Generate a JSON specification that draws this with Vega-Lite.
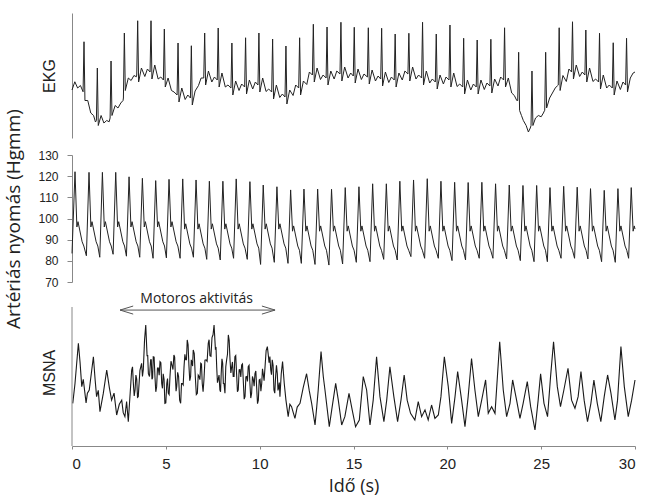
{
"$schema": "https://vega.github.io/schema/vega-lite/v6.json",
"padding": {"top": 13, "left": 4, "right": 6, "bottom": 0},
"bounds": "flush",
"spacing": 17,
"config": {"view": {"stroke": null}, "axis": {"grid": false}},
"datasets": {
"ekg": [
{"t":0,"v":38.4},{"t":0.15,"v":45},{"t":0.3,"v":40},{"t":0.45,"v":42},
{"t":0.59,"v":37},{"t":0.64,"v":77},{"t":0.69,"v":30},{"t":0.84,"v":30},{"t":1.0,"v":20},{"t":1.15,"v":18},{"t":1.25,"v":12.8},
{"t":1.30,"v":14},{"t":1.35,"v":56},{"t":1.40,"v":10},{"t":1.55,"v":18},{"t":1.7,"v":12},{"t":1.85,"v":14},{"t":1.98,"v":13},
{"t":2.03,"v":16},{"t":2.08,"v":61.6},{"t":2.13,"v":18},{"t":2.3,"v":26},{"t":2.45,"v":24},{"t":2.6,"v":28},{"t":2.72,"v":30},
{"t":2.74,"v":32},{"t":2.79,"v":84},{"t":2.84,"v":38},{"t":3.0,"v":48},{"t":3.15,"v":46},{"t":3.3,"v":50},{"t":3.43,"v":49},
{"t":3.45,"v":50.4},{"t":3.50,"v":93.8},{"t":3.55,"v":44.8},{"t":3.70,"v":56},{"t":3.88,"v":49.2},{"t":4.02,"v":55.2},
{"t":4.16,"v":52.8},{"t":4.21,"v":93.8},{"t":4.26,"v":47.2},{"t":4.41,"v":58.4},{"t":4.59,"v":47.2},{"t":4.73,"v":48.8},
{"t":4.87,"v":46.4},{"t":4.92,"v":87.2},{"t":4.97,"v":40.8},{"t":5.12,"v":48},{"t":5.30,"v":38},{"t":5.44,"v":36.8},
{"t":5.60,"v":34.4},{"t":5.65,"v":76},{"t":5.70,"v":28.8},{"t":5.85,"v":40},{"t":6.03,"v":30.8},{"t":6.17,"v":34.4},
{"t":6.31,"v":32},{"t":6.36,"v":73.8},{"t":6.41,"v":26.4},{"t":6.56,"v":37.6},{"t":6.74,"v":42},{"t":6.88,"v":48},
{"t":7.02,"v":48},{"t":7.07,"v":84},{"t":7.12,"v":42.4},{"t":7.27,"v":53.6},{"t":7.45,"v":44.8},{"t":7.59,"v":48.8},
{"t":7.74,"v":46.4},{"t":7.79,"v":88},{"t":7.84,"v":40.8},{"t":7.99,"v":52},{"t":8.17,"v":40.8},{"t":8.31,"v":42.4},
{"t":8.47,"v":40},{"t":8.52,"v":76},{"t":8.57,"v":34.4},{"t":8.72,"v":45.6},{"t":8.90,"v":38},{"t":9.04,"v":43.2},
{"t":9.20,"v":40.8},{"t":9.25,"v":80.2},{"t":9.30,"v":35.2},{"t":9.45,"v":46.4},{"t":9.63,"v":39.2},{"t":9.77,"v":44.8},
{"t":9.91,"v":42.4},{"t":9.96,"v":84},{"t":10.01,"v":36.8},{"t":10.16,"v":48},{"t":10.34,"v":37.2},{"t":10.48,"v":39.2},
{"t":10.64,"v":36.8},{"t":10.69,"v":79.2},{"t":10.74,"v":31.2},{"t":10.89,"v":42.4},{"t":11.07,"v":32.4},{"t":11.21,"v":35.2},
{"t":11.35,"v":32.8},{"t":11.40,"v":73.6},{"t":11.45,"v":27.2},{"t":11.60,"v":38.4},{"t":11.78,"v":34},{"t":11.92,"v":42.4},
{"t":12.08,"v":40},{"t":12.13,"v":80.2},{"t":12.18,"v":34.4},{"t":12.33,"v":45.6},{"t":12.51,"v":42.8},{"t":12.65,"v":52.8},
{"t":12.81,"v":50.4},{"t":12.86,"v":91},{"t":12.91,"v":44.8},{"t":13.06,"v":56},{"t":13.24,"v":46.8},{"t":13.38,"v":50.4},
{"t":13.54,"v":48},{"t":13.59,"v":88.8},{"t":13.64,"v":42.4},{"t":13.79,"v":53.6},{"t":13.97,"v":47.2},{"t":14.11,"v":53.6},
{"t":14.28,"v":51.2},{"t":14.33,"v":92.6},{"t":14.38,"v":45.6},{"t":14.53,"v":56.8},{"t":14.71,"v":48},{"t":14.85,"v":52},
{"t":14.99,"v":49.6},{"t":15.04,"v":88.6},{"t":15.09,"v":44},{"t":15.24,"v":55.2},{"t":15.42,"v":46.8},{"t":15.56,"v":51.2},
{"t":15.74,"v":48.8},{"t":15.79,"v":88.2},{"t":15.84,"v":43.2},{"t":15.99,"v":54.4},{"t":16.17,"v":45.6},{"t":16.31,"v":49.6},
{"t":16.45,"v":47.2},{"t":16.50,"v":87.8},{"t":16.55,"v":41.6},{"t":16.70,"v":52.8},{"t":16.88,"v":44.4},{"t":17.02,"v":48.8},
{"t":17.17,"v":46.4},{"t":17.22,"v":83.2},{"t":17.27,"v":40.8},{"t":17.42,"v":52},{"t":17.60,"v":46.4},{"t":17.74,"v":53.6},
{"t":17.90,"v":51.2},{"t":17.95,"v":83.8},{"t":18.00,"v":45.6},{"t":18.15,"v":56.8},{"t":18.33,"v":47.2},{"t":18.47,"v":50.4},
{"t":18.63,"v":48},{"t":18.68,"v":92.6},{"t":18.73,"v":42.4},{"t":18.88,"v":53.6},{"t":19.06,"v":44},{"t":19.20,"v":47.2},
{"t":19.36,"v":44.8},{"t":19.41,"v":83.2},{"t":19.46,"v":39.2},{"t":19.61,"v":50.4},{"t":19.79,"v":43.2},{"t":19.93,"v":48.8},
{"t":20.09,"v":46.4},{"t":20.14,"v":90.4},{"t":20.19,"v":40.8},{"t":20.34,"v":52},{"t":20.52,"v":41.2},{"t":20.66,"v":43.2},
{"t":20.82,"v":40.8},{"t":20.87,"v":79.8},{"t":20.92,"v":35.2},{"t":21.07,"v":46.4},{"t":21.25,"v":38.4},{"t":21.39,"v":43.2},
{"t":21.54,"v":40.8},{"t":21.59,"v":78.4},{"t":21.64,"v":35.2},{"t":21.79,"v":46.4},{"t":21.97,"v":38.8},{"t":22.11,"v":44},
{"t":22.27,"v":41.6},{"t":22.32,"v":79},{"t":22.37,"v":36},{"t":22.52,"v":47.2},{"t":22.70,"v":41.6},{"t":22.84,"v":48.8},
{"t":23.00,"v":46.4},{"t":23.05,"v":88.2},{"t":23.10,"v":40.8},{"t":23.25,"v":48},{"t":23.43,"v":36},{"t":23.57,"v":34},{"t":23.70,"v":30},
{"t":23.75,"v":30},{"t":23.80,"v":68.6},{"t":23.85,"v":22},{"t":23.95,"v":18},{"t":24.05,"v":14},{"t":24.2,"v":10},{"t":24.32,"v":4.8},{"t":24.42,"v":8},
{"t":24.46,"v":10},{"t":24.51,"v":53.6},{"t":24.56,"v":10},{"t":24.7,"v":16},{"t":24.85,"v":18},{"t":25.0,"v":17},{"t":25.12,"v":20},{"t":25.18,"v":22},
{"t":25.19,"v":22},{"t":25.24,"v":68.6},{"t":25.29,"v":24},{"t":25.45,"v":32},{"t":25.6,"v":36},{"t":25.75,"v":40},{"t":25.88,"v":42},
{"t":25.91,"v":42.4},{"t":25.96,"v":88.2},{"t":26.01,"v":38},{"t":26.16,"v":50},{"t":26.34,"v":45.2},{"t":26.48,"v":55.2},
{"t":26.62,"v":52.8},{"t":26.67,"v":93},{"t":26.72,"v":47.2},{"t":26.87,"v":58.4},{"t":27.05,"v":49.2},{"t":27.19,"v":52.8},
{"t":27.33,"v":50.4},{"t":27.38,"v":86.4},{"t":27.43,"v":44.8},{"t":27.58,"v":56},{"t":27.76,"v":45.2},{"t":27.90,"v":47.2},
{"t":28.06,"v":44.8},{"t":28.11,"v":83.8},{"t":28.16,"v":39.2},{"t":28.31,"v":50.4},{"t":28.49,"v":40},{"t":28.63,"v":42.4},
{"t":28.79,"v":40},{"t":28.84,"v":76.2},{"t":28.89,"v":34.4},{"t":29.04,"v":45.6},{"t":29.22,"v":38.8},{"t":29.36,"v":44.8},
{"t":29.50,"v":42.4},{"t":29.55,"v":79.8},{"t":29.60,"v":36.8},{"t":29.75,"v":48},{"t":29.90,"v":52},{"t":30.0,"v":52.8}
],
"bp": [
{"t":0,"v":83.5},
{"t":0.16,"v":122.1},{"t":0.26,"v":96},{"t":0.32,"v":98.5},{"t":0.54,"v":89},{"t":0.63,"v":87},{"t":0.766,"v":82.4},
{"t":0.906,"v":121.8},{"t":1.006,"v":96},{"t":1.066,"v":98.5},{"t":1.286,"v":89},{"t":1.376,"v":87},{"t":1.48,"v":81.7},
{"t":1.62,"v":121.8},{"t":1.72,"v":96},{"t":1.78,"v":98.5},{"t":2.0,"v":89},{"t":2.09,"v":87},{"t":2.19,"v":83.1},
{"t":2.33,"v":121.8},{"t":2.43,"v":96},{"t":2.49,"v":98.5},{"t":2.71,"v":89},{"t":2.80,"v":87},{"t":2.90,"v":82.2},
{"t":3.04,"v":119.7},{"t":3.14,"v":96},{"t":3.20,"v":98.5},{"t":3.42,"v":89},{"t":3.51,"v":87},{"t":3.61,"v":81.7},
{"t":3.75,"v":119},{"t":3.85,"v":96},{"t":3.91,"v":98.5},{"t":4.13,"v":89},{"t":4.22,"v":87},{"t":4.32,"v":81.2},
{"t":4.46,"v":117.9},{"t":4.56,"v":96},{"t":4.62,"v":98.5},{"t":4.84,"v":89},{"t":4.93,"v":87},{"t":5.03,"v":81.4},
{"t":5.17,"v":118.5},{"t":5.27,"v":96},{"t":5.33,"v":98.5},{"t":5.55,"v":89},{"t":5.64,"v":87},{"t":5.76,"v":81.2},
{"t":5.90,"v":118.7},{"t":6.00,"v":95},{"t":6.06,"v":97.5},{"t":6.28,"v":88},{"t":6.37,"v":86},{"t":6.47,"v":81.7},
{"t":6.61,"v":118.2},{"t":6.71,"v":95},{"t":6.77,"v":97.5},{"t":6.99,"v":88},{"t":7.08,"v":86},{"t":7.18,"v":80.7},
{"t":7.32,"v":117.6},{"t":7.42,"v":95},{"t":7.48,"v":97.5},{"t":7.70,"v":88},{"t":7.79,"v":86},{"t":7.90,"v":80.4},
{"t":8.04,"v":117.6},{"t":8.14,"v":95},{"t":8.20,"v":97.5},{"t":8.42,"v":88},{"t":8.51,"v":86},{"t":8.61,"v":81.2},
{"t":8.75,"v":118.7},{"t":8.85,"v":95},{"t":8.91,"v":97.5},{"t":9.13,"v":88},{"t":9.22,"v":86},{"t":9.34,"v":80.7},
{"t":9.48,"v":117.4},{"t":9.58,"v":95},{"t":9.64,"v":97.5},{"t":9.86,"v":88},{"t":9.95,"v":86},{"t":10.05,"v":78.3},
{"t":10.19,"v":115.8},{"t":10.29,"v":95},{"t":10.35,"v":97.5},{"t":10.57,"v":88},{"t":10.66,"v":86},{"t":10.78,"v":79.3},
{"t":10.92,"v":115},{"t":11.02,"v":95},{"t":11.08,"v":97.5},{"t":11.30,"v":88},{"t":11.39,"v":86},{"t":11.51,"v":78.8},
{"t":11.65,"v":113.5},{"t":11.75,"v":94},{"t":11.81,"v":96.5},{"t":12.03,"v":87},{"t":12.12,"v":85},{"t":12.22,"v":78.8},
{"t":12.36,"v":113.9},{"t":12.46,"v":94},{"t":12.52,"v":96.5},{"t":12.74,"v":87},{"t":12.83,"v":85},{"t":12.95,"v":78.3},
{"t":13.09,"v":113.9},{"t":13.19,"v":94},{"t":13.25,"v":96.5},{"t":13.47,"v":87},{"t":13.56,"v":85},{"t":13.69,"v":78},
{"t":13.83,"v":113.8},{"t":13.93,"v":94},{"t":13.99,"v":96.5},{"t":14.21,"v":87},{"t":14.30,"v":85},{"t":14.42,"v":78.5},
{"t":14.56,"v":114.6},{"t":14.66,"v":94},{"t":14.72,"v":96.5},{"t":14.94,"v":87},{"t":15.03,"v":85},{"t":15.15,"v":79.3},
{"t":15.29,"v":115},{"t":15.39,"v":94},{"t":15.45,"v":96.5},{"t":15.67,"v":87},{"t":15.76,"v":85},{"t":15.88,"v":79.6},
{"t":16.02,"v":116.4},{"t":16.12,"v":94},{"t":16.18,"v":96.5},{"t":16.40,"v":87},{"t":16.49,"v":85},{"t":16.61,"v":80.7},
{"t":16.75,"v":116.4},{"t":16.85,"v":94},{"t":16.91,"v":96.5},{"t":17.13,"v":87},{"t":17.22,"v":85},{"t":17.33,"v":80.4},
{"t":17.47,"v":117.6},{"t":17.57,"v":94},{"t":17.63,"v":96.5},{"t":17.85,"v":87},{"t":17.94,"v":85},{"t":18.06,"v":82},
{"t":18.20,"v":118.2},{"t":18.30,"v":94},{"t":18.36,"v":96.5},{"t":18.58,"v":87},{"t":18.67,"v":85},{"t":18.79,"v":81.2},
{"t":18.93,"v":118.8},{"t":19.03,"v":94},{"t":19.09,"v":96.5},{"t":19.31,"v":87},{"t":19.40,"v":85},{"t":19.52,"v":81.2},
{"t":19.66,"v":117.6},{"t":19.76,"v":94},{"t":19.82,"v":96.5},{"t":20.04,"v":87},{"t":20.13,"v":85},{"t":20.25,"v":80.1},
{"t":20.39,"v":117.1},{"t":20.49,"v":94},{"t":20.55,"v":96.5},{"t":20.77,"v":87},{"t":20.86,"v":85},{"t":20.97,"v":80.4},
{"t":21.11,"v":117},{"t":21.21,"v":94},{"t":21.27,"v":96.5},{"t":21.49,"v":87},{"t":21.58,"v":85},{"t":21.70,"v":81.2},
{"t":21.84,"v":117.1},{"t":21.94,"v":94},{"t":22.00,"v":96.5},{"t":22.22,"v":87},{"t":22.31,"v":85},{"t":22.43,"v":81.2},
{"t":22.57,"v":116.4},{"t":22.67,"v":94},{"t":22.73,"v":96.5},{"t":22.95,"v":87},{"t":23.04,"v":85},{"t":23.16,"v":80.9},
{"t":23.30,"v":115.8},{"t":23.40,"v":94},{"t":23.46,"v":96.5},{"t":23.68,"v":87},{"t":23.77,"v":85},{"t":23.89,"v":80.1},
{"t":24.03,"v":115.6},{"t":24.13,"v":94},{"t":24.19,"v":96.5},{"t":24.41,"v":87},{"t":24.50,"v":85},{"t":24.62,"v":79.6},
{"t":24.76,"v":115.6},{"t":24.86,"v":94},{"t":24.92,"v":96.5},{"t":25.14,"v":87},{"t":25.23,"v":85},{"t":25.33,"v":79.6},
{"t":25.47,"v":114.6},{"t":25.57,"v":94},{"t":25.63,"v":96.5},{"t":25.85,"v":87},{"t":25.94,"v":85},{"t":26.06,"v":81.2},
{"t":26.20,"v":115.2},{"t":26.30,"v":94},{"t":26.36,"v":96.5},{"t":26.58,"v":87},{"t":26.67,"v":85},{"t":26.78,"v":81.2},
{"t":26.92,"v":114.8},{"t":27.02,"v":94},{"t":27.08,"v":96.5},{"t":27.30,"v":87},{"t":27.39,"v":85},{"t":27.49,"v":80.9},
{"t":27.63,"v":114.1},{"t":27.73,"v":94},{"t":27.79,"v":96.5},{"t":28.01,"v":87},{"t":28.10,"v":85},{"t":28.22,"v":79.6},
{"t":28.36,"v":113.3},{"t":28.46,"v":94},{"t":28.52,"v":96.5},{"t":28.74,"v":87},{"t":28.83,"v":85},{"t":28.95,"v":79.3},
{"t":29.09,"v":114.1},{"t":29.19,"v":94},{"t":29.25,"v":96.5},{"t":29.47,"v":87},{"t":29.56,"v":85},{"t":29.66,"v":81.2},
{"t":29.80,"v":114.6},{"t":29.90,"v":94},{"t":29.96,"v":96.5},{"t":30.0,"v":95}
],
"msna": [
{"t":0.04,"v":30.7},{"t":0.16,"v":45},{"t":0.34,"v":73.9},{"t":0.43,"v":60},{"t":0.52,"v":42.7},{"t":0.60,"v":48},{"t":0.75,"v":31},{"t":0.82,"v":38},{"t":0.92,"v":40.3},
{"t":1.14,"v":64.2},{"t":1.23,"v":48},{"t":1.31,"v":35.5},{"t":1.40,"v":40},{"t":1.49,"v":24.7},{"t":1.67,"v":38},{"t":1.85,"v":54.7},{"t":1.99,"v":42},
{"t":2.11,"v":33},{"t":2.24,"v":38},{"t":2.38,"v":22.3},{"t":2.52,"v":30},{"t":2.65,"v":33},{"t":2.73,"v":24},{"t":2.82,"v":21.1},{"t":2.91,"v":32},{"t":3.00,"v":17.5},
{"t":3.18,"v":54.7},{"t":3.225,"v":57},{"t":3.27,"v":45},{"t":3.315,"v":36},{"t":3.36,"v":40.3},{"t":3.405,"v":51},{"t":3.45,"v":48},{"t":3.49,"v":35},{"t":3.53,"v":35.5},{"t":3.62,"v":54.5},
{"t":3.71,"v":59.5},{"t":3.755,"v":50},{"t":3.80,"v":55},{"t":3.865,"v":76},{"t":3.93,"v":87},{"t":4.00,"v":65},{"t":4.035,"v":65},{"t":4.07,"v":52},{"t":4.13,"v":50},
{"t":4.19,"v":62},{"t":4.225,"v":62},{"t":4.26,"v":48},{"t":4.295,"v":49},{"t":4.33,"v":64.2},{"t":4.375,"v":64},{"t":4.42,"v":50},{"t":4.465,"v":39},{"t":4.51,"v":42.7},{"t":4.555,"v":56},
{"t":4.60,"v":56},{"t":4.645,"v":51},{"t":4.69,"v":60.7},{"t":4.735,"v":60},{"t":4.78,"v":45},{"t":4.82,"v":41.5},{"t":4.86,"v":52},{"t":4.905,"v":48},{"t":4.95,"v":30.7},{"t":5.0,"v":31},
{"t":5.05,"v":45},{"t":5.09,"v":48.5},{"t":5.13,"v":38},{"t":5.175,"v":37},{"t":5.22,"v":49.9},{"t":5.275,"v":61},{"t":5.33,"v":58},{"t":5.38,"v":55},{"t":5.43,"v":65.5},{"t":5.47,"v":64},
{"t":5.51,"v":50},{"t":5.545,"v":39.4},{"t":5.58,"v":42.7},{"t":5.63,"v":53},{"t":5.68,"v":50},{"t":5.735,"v":33},{"t":5.79,"v":30.7},{"t":5.835,"v":45},{"t":5.88,"v":45},{"t":5.925,"v":44},
{"t":5.97,"v":57},{"t":6.015,"v":66},{"t":6.06,"v":62},{"t":6.10,"v":62},{"t":6.14,"v":76.3},{"t":6.185,"v":73},{"t":6.23,"v":58},{"t":6.275,"v":47},{"t":6.32,"v":49.9},{"t":6.355,"v":62},
{"t":6.39,"v":60},{"t":6.425,"v":57.5},{"t":6.46,"v":69.1},{"t":6.515,"v":66.5},{"t":6.57,"v":50},{"t":6.625,"v":37},{"t":6.68,"v":37.9},{"t":6.725,"v":51},{"t":6.77,"v":50},{"t":6.815,"v":47.7},
{"t":6.86,"v":59.5},{"t":6.90,"v":59},{"t":6.94,"v":45},{"t":6.985,"v":39},{"t":7.03,"v":47.5},{"t":7.085,"v":61.7},{"t":7.14,"v":62},{"t":7.20,"v":61},{"t":7.26,"v":73.9},{"t":7.305,"v":76.5},
{"t":7.35,"v":65},{"t":7.405,"v":64.5},{"t":7.46,"v":78},{"t":7.515,"v":80},{"t":7.57,"v":87},{"t":7.64,"v":70},{"t":7.675,"v":70.5},{"t":7.71,"v":57},{"t":7.75,"v":45.5},{"t":7.79,"v":48},
{"t":7.835,"v":51},{"t":7.88,"v":40.3},{"t":7.915,"v":39},{"t":7.95,"v":52},{"t":7.99,"v":62.7},{"t":8.03,"v":59.5},{"t":8.065,"v":45},{"t":8.10,"v":45},{"t":8.15,"v":37.9},{"t":8.195,"v":57},
{"t":8.24,"v":62},{"t":8.285,"v":66},{"t":8.33,"v":79.9},{"t":8.375,"v":76},{"t":8.42,"v":62},{"t":8.465,"v":52.5},{"t":8.51,"v":57},{"t":8.55,"v":60.5},{"t":8.59,"v":50},{"t":8.635,"v":50},
{"t":8.68,"v":64.2},{"t":8.725,"v":65},{"t":8.77,"v":52},{"t":8.815,"v":39},{"t":8.86,"v":40.3},{"t":8.905,"v":54.7},{"t":8.95,"v":55},{"t":8.995,"v":49.7},{"t":9.04,"v":58.3},{"t":9.085,"v":59},
{"t":9.13,"v":46},{"t":9.175,"v":33.7},{"t":9.22,"v":35.5},{"t":9.265,"v":49.7},{"t":9.31,"v":50},{"t":9.35,"v":46.5},{"t":9.39,"v":57},{"t":9.435,"v":58},{"t":9.48,"v":45},{"t":9.525,"v":34.5},
{"t":9.57,"v":37.9},{"t":9.615,"v":50},{"t":9.66,"v":48},{"t":9.705,"v":43},{"t":9.75,"v":52},{"t":9.795,"v":54},{"t":9.84,"v":42},{"t":9.885,"v":30.5},{"t":9.93,"v":33},{"t":9.975,"v":47.5},
{"t":10.02,"v":48},{"t":10.065,"v":39.5},{"t":10.11,"v":45.1},{"t":10.15,"v":55.5},{"t":10.19,"v":52},{"t":10.235,"v":47},{"t":10.28,"v":55.8},{"t":10.345,"v":68.7},{"t":10.41,"v":71.5},{"t":10.455,"v":66},
{"t":10.50,"v":60},{"t":10.545,"v":64.3},{"t":10.59,"v":54.7},{"t":10.63,"v":51.3},{"t":10.67,"v":62},{"t":10.715,"v":58},{"t":10.76,"v":40.3},{"t":10.805,"v":38},{"t":10.85,"v":50},{"t":10.895,"v":58},
{"t":10.94,"v":52},{"t":10.975,"v":40},{"t":11.01,"v":42},{"t":11.045,"v":45.7},{"t":11.08,"v":35.5},{"t":11.15,"v":52},{"t":11.22,"v":60.7},
{"t":11.31,"v":45},{"t":11.40,"v":33},{"t":11.52,"v":21.1},{"t":11.61,"v":30},{"t":11.70,"v":28.3},{"t":11.79,"v":24},{"t":11.88,"v":19.9},{"t":12.00,"v":28},{"t":12.15,"v":30.7},
{"t":12.32,"v":42},{"t":12.50,"v":52},{"t":12.64,"v":40},{"t":12.77,"v":30.7},{"t":12.95,"v":15.1},{"t":13.04,"v":28},{"t":13.12,"v":40.3},{"t":13.27,"v":67.9},{"t":13.39,"v":50},
{"t":13.48,"v":40.3},{"t":13.71,"v":13.9},{"t":13.84,"v":26},{"t":14.05,"v":45.1},{"t":14.19,"v":33},{"t":14.37,"v":15.1},{"t":14.54,"v":21.1},{"t":14.76,"v":37.9},{"t":14.93,"v":26},
{"t":15.11,"v":13.9},{"t":15.31,"v":18.7},{"t":15.52,"v":49.9},{"t":15.70,"v":40.3},{"t":15.88,"v":15.1},{"t":16.05,"v":33},{"t":16.23,"v":64.2},{"t":16.41,"v":35.5},{"t":16.62,"v":17.5},
{"t":16.77,"v":33},{"t":16.94,"v":57},{"t":17.15,"v":35.5},{"t":17.35,"v":17.5},{"t":17.53,"v":33},{"t":17.70,"v":51.1},{"t":17.86,"v":33},{"t":18.04,"v":23.5},{"t":18.27,"v":18.7},
{"t":18.45,"v":31.9},{"t":18.63,"v":21.1},{"t":18.81,"v":26},{"t":18.98,"v":18.7},{"t":19.16,"v":29.5},{"t":19.34,"v":19.9},{"t":19.52,"v":22.3},{"t":19.66,"v":35.5},{"t":19.84,"v":64.2},
{"t":20.05,"v":42.7},{"t":20.23,"v":16.3},{"t":20.41,"v":35.5},{"t":20.55,"v":53.5},{"t":20.76,"v":33},{"t":20.94,"v":13.9},{"t":21.11,"v":35.5},{"t":21.29,"v":63},{"t":21.47,"v":40.3},
{"t":21.65,"v":21.1},{"t":21.83,"v":33},{"t":22.04,"v":47.5},{"t":22.18,"v":23.5},{"t":22.36,"v":28.3},{"t":22.54,"v":23.5},{"t":22.79,"v":75},{"t":22.98,"v":40.3},{"t":23.16,"v":21.1},
{"t":23.34,"v":30.7},{"t":23.48,"v":47.5},{"t":23.69,"v":33},{"t":23.87,"v":19.9},{"t":24.04,"v":30.7},{"t":24.26,"v":46.3},{"t":24.44,"v":28.3},{"t":24.67,"v":11.5},{"t":24.84,"v":33},
{"t":24.97,"v":52},{"t":25.15,"v":30.7},{"t":25.34,"v":21.1},{"t":25.50,"v":49.9},{"t":25.66,"v":75},{"t":25.86,"v":42.7},{"t":26.03,"v":28.3},{"t":26.21,"v":40.3},{"t":26.43,"v":55.9},
{"t":26.62,"v":33},{"t":26.80,"v":27.1},{"t":26.97,"v":35.5},{"t":27.12,"v":53.5},{"t":27.29,"v":33},{"t":27.47,"v":17.5},{"t":27.65,"v":30.7},{"t":27.81,"v":47.5},{"t":27.99,"v":30.7},
{"t":28.18,"v":17.5},{"t":28.36,"v":35.5},{"t":28.54,"v":51.1},{"t":28.72,"v":37.9},{"t":28.93,"v":18.7},{"t":29.07,"v":33},{"t":29.25,"v":71.5},{"t":29.43,"v":42.7},{"t":29.64,"v":21.1},
{"t":29.82,"v":33},{"t":30.0,"v":47.5}
],
"arrow": [
{"g":"s","o":1,"t":2.56,"v":97.8},{"g":"s","o":2,"t":10.82,"v":97.8},
{"g":"l","o":1,"t":3.26,"v":100.7},{"g":"l","o":2,"t":2.56,"v":97.8},{"g":"l","o":3,"t":3.26,"v":94.9},
{"g":"r","o":1,"t":10.12,"v":100.7},{"g":"r","o":2,"t":10.82,"v":97.8},{"g":"r","o":3,"t":10.12,"v":94.9}
],
"label": [{"t":6.64,"v":105.5,"txt":"Motoros aktivitás"}],
"yaxis": [{"t":0,"v":0,"v2":100}]
},
"vconcat": [
{
"width": 563, "height": 125,
"data": {"name": "ekg"},
"mark": {"type": "line", "color": "#222", "strokeWidth": 1},
"encoding": {
"x": {"field": "t", "type": "quantitative", "scale": {"domain": [0, 30], "nice": false}, "axis": null},
"y": {"field": "v", "type": "quantitative", "scale": {"domain": [0, 100], "nice": false, "zero": false},
"axis": {"title": "EKG", "labels": false, "ticks": false, "domainColor": "#888", "titleFont": "Liberation Sans", "titleFontSize": 16, "titleFontWeight": "normal", "titleColor": "#222", "titlePadding": 15}}
}
},
{
"width": 563, "height": 127,
"data": {"name": "bp"},
"mark": {"type": "line", "color": "#222", "strokeWidth": 1},
"encoding": {
"x": {"field": "t", "type": "quantitative", "scale": {"domain": [0, 30], "nice": false}, "axis": null},
"y": {"field": "v", "type": "quantitative", "scale": {"domain": [70, 130], "nice": false, "zero": false},
"axis": {"title": "Artériás nyomás (Hgmm)", "values": [70, 80, 90, 100, 110, 120, 130], "tickSize": 5, "tickColor": "#888", "domainColor": "#888", "labelFont": "Liberation Sans", "labelFontSize": 12, "labelColor": "#222", "labelPadding": 9, "titleFont": "Open Sans", "titleFontSize": 19, "titleFontWeight": "normal", "titleColor": "#222", "titlePadding": 14}}
}
},
{
"width": 563, "height": 147,
"layer": [
{
"data": {"name": "msna"},
"mark": {"type": "line", "color": "#1a1a1a", "strokeWidth": 1.1},
"encoding": {
"x": {"field": "t", "type": "quantitative", "scale": {"domain": [0, 30], "nice": false},
"axis": {"title": "Idő (s)", "values": [0, 5, 10, 15, 20, 25, 30], "tickSize": 3, "tickColor": "#888", "domainColor": "#888", "labelFont": "Liberation Sans", "labelFontSize": 15, "labelColor": "#222", "labelPadding": 7, "titleFont": "Open Sans", "titleFontSize": 18, "titleFontWeight": "normal", "titleColor": "#222", "titlePadding": 6}},
"y": {"field": "v", "type": "quantitative", "scale": {"domain": [0, 105.76], "nice": false, "zero": false},
"axis": {"title": "MSNA", "labels": false, "ticks": false, "domain": false, "titleFont": "Liberation Sans", "titleFontSize": 16, "titleFontWeight": "normal", "titleColor": "#222", "titlePadding": 15}}
}
},
{
"data": {"name": "yaxis"},
"mark": {"type": "rule", "color": "#888", "strokeWidth": 1},
"encoding": {
"x": {"field": "t", "type": "quantitative"},
"y": {"field": "v", "type": "quantitative"},
"y2": {"field": "v2"}
}
},
{
"data": {"name": "arrow"},
"mark": {"type": "line", "color": "#555", "strokeWidth": 1},
"encoding": {
"x": {"field": "t", "type": "quantitative"},
"y": {"field": "v", "type": "quantitative"},
"detail": {"field": "g"},
"order": {"field": "o"}
}
},
{
"data": {"name": "label"},
"mark": {"type": "text", "font": "Open Sans", "fontSize": 14, "color": "#222", "baseline": "middle"},
"encoding": {
"x": {"field": "t", "type": "quantitative"},
"y": {"field": "v", "type": "quantitative"},
"text": {"field": "txt"}
}
}
]
}
]
}
